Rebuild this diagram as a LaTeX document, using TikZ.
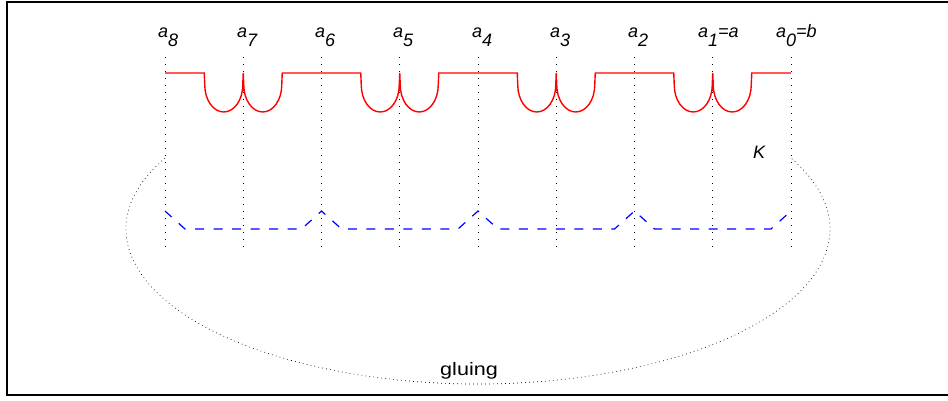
\documentclass[tikz,border=0pt]{standalone}
\usepackage{fontspec}
\setmainfont{Liberation Sans}
\newcommand{\lsub}[1]{\raisebox{-9pt}{#1}}
\begin{document}
\begin{tikzpicture}[x=1pt,y=1pt,
  lbl/.style={inner sep=0pt, anchor=base west, font=\fontsize{18}{18}\selectfont\itshape},
  guide/.style={black, line width=0.8pt, dash pattern=on 0.8pt off 6.2pt},
  loopline/.style={black, line width=0.7pt, dash pattern=on 0.7pt off 3.3pt},
  redline/.style={red, line width=1.4pt},
  blueline/.style={blue, line width=1.2pt, dash pattern=on 9pt off 9.5pt},
  frame/.style={black, line width=2pt}]
\useasboundingbox (0,0) rectangle (948,-400);
\fill[white] (0,0) rectangle (948,-400);
% frame
\draw[frame] (949,-1.5) -- (6.5,-1.5) -- (6.5,-394.8) -- (949,-394.8);
% guide lines
\foreach \k in {0,...,8} {
  \coordinate (t\k) at ({165+(8-\k)*78.25},-57);
  \coordinate (b\k) at ({165+(8-\k)*78.25},-249);
  \draw[guide] (t\k) -- (b\k);
}
% red curve
\draw[redline] (165,-73)
  \foreach \c in {243.25,399.75,556.25,712.75} {
    -- ({\c-39},-73) -- ({\c-38.5},-85)
    arc[start angle=180, end angle=360, x radius=19pt, y radius=27pt]
    -- (\c,-73) -- ({\c+0.5},-85)
    arc[start angle=180, end angle=360, x radius=19pt, y radius=27pt]
    -- ({\c+39},-73)
  } -- (791,-73);
% blue dashed curve
\draw[blueline] (165,-211) -- (185,-229)
  \foreach \p in {321.5,478,634.5} {
    -- ({\p-20},-229) -- (\p,-211) -- ({\p+20},-229)
  } -- (771,-229) -- (791,-211);
% gluing loop
\draw[loopline] (478,-229) ++(152.8:352pt and 155pt)
  arc[start angle=152.8, end angle=387.2, x radius=352pt, y radius=155pt];
% labels
\node[lbl] (l8) at (158,-37) {a\lsub{8}};
\node[lbl] (l7) at (237,-37) {a\lsub{7}};
\node[lbl] (l6) at (315,-37) {a\lsub{6}};
\node[lbl] (l5) at (393,-37) {a\lsub{5}};
\node[lbl] (l4) at (472,-37) {a\lsub{4}};
\node[lbl] (l3) at (550,-37) {a\lsub{3}};
\node[lbl] (l2) at (628,-37) {a\lsub{2}};
\node[lbl] (l1) at (698,-37) {a\lsub{1}=a};
\node[lbl] (l0) at (776,-37) {a\lsub{0}=b};
\node[lbl] (K) at (753,-158) {K};
\node[inner sep=0pt, anchor=base west, font=\fontsize{18}{18}\selectfont] (glue) at (440,-375) {\scalebox{1.2}[1]{gluing}};
\end{tikzpicture}
\end{document}
